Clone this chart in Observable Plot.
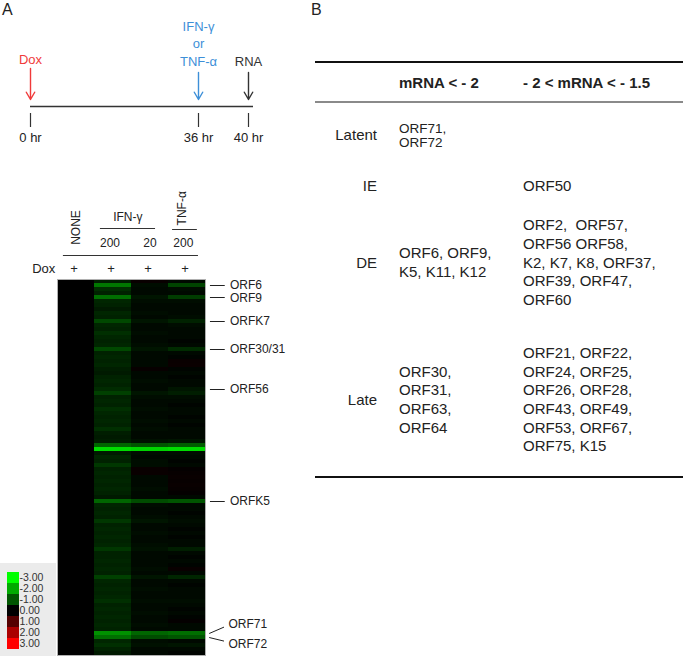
<!DOCTYPE html>
<html><head><meta charset="utf-8">
<script src="https://cdn.jsdelivr.net/npm/d3@7"></script>
<script src="https://cdn.jsdelivr.net/npm/@observablehq/plot@0.6"></script>
<style>
body{margin:0;background:#fff;}
#fig{position:relative;width:685px;height:656px;overflow:hidden;font-family:"Liberation Sans",Arial,sans-serif;color:#222;background:#fff;}
#fig .abs{position:absolute;white-space:nowrap;}
#fig svg{overflow:visible;}
</style></head><body><div id="fig"></div>
<script>
// ---------- data ----------
const conditions = ["NONE", "IFN-γ 200", "IFN-γ 20", "TNF-α 200"];
const noneValues = [
  0,0,0,0,0,0,0,0,0,0, 0,0,0,0,0,0,0,0,0,0, 0,0,0,0,0,0,0,0,0,0, 0,0,0,0,0,0,0,0,0,0,
  0,0,0,0,0,0,0,0,0,0, 0,0,0,0,0,0,0,0,0,0, 0,0,0,0,0,0,0,0,0,0, 0,0,0,0,0,0,0,0,0,0,
  0,0,0,0,0,0,0,0,0,0, 0,0,0,0];
const ifn200 = [
  -0.35,-1.4,-0.55,-0.4,-1.3,-0.45,-0.4,-0.3,-0.45,-0.4,
  -0.85,-0.45,-0.4,-0.55,-0.45,-0.4,-0.45,-0.85,-0.4,-0.45,
  -0.4,-0.45,-0.35,-0.3,-0.4,-0.45,-0.4,-0.5,-0.75,-0.4,
  -0.45,-0.4,-0.55,-0.45,-0.4,-0.45,-0.4,-0.55,-0.35,-0.3,
  -0.35,-1.2,-2.6,-0.3,-0.45,-0.4,-0.65,-0.4,-0.45,-0.4,
  -0.45,-0.4,-0.45,-0.4,-0.3,-1.2,-0.45,-0.4,-0.45,-0.4,
  -0.65,-0.4,-0.45,-0.4,-0.45,-0.4,-0.45,-0.65,-0.4,-0.4,
  -0.45,-0.4,-0.45,-0.4,-0.75,-0.45,-0.4,-0.45,-0.4,-0.45,
  -0.55,-0.4,-0.45,-0.4,-0.45,-0.4,-0.45,-0.4,-1.7,-1.3,
  -0.45,-0.55,-0.4,-0.3];
const ifn20 = [
  0.1,-0.15,-0.1,-0.1,-0.25,-0.15,-0.1,-0.1,-0.15,-0.1,
  -0.25,-0.1,-0.1,-0.15,-0.1,-0.1,-0.15,-0.25,-0.1,-0.1,
  -0.1,-0.1,0.08,-0.1,-0.1,-0.15,-0.1,-0.1,-0.25,-0.15,
  -0.1,-0.1,-0.15,-0.1,-0.1,-0.15,-0.1,-0.15,-0.1,-0.1,
  -0.2,-1.0,-2.5,-0.15,-0.1,-0.15,-0.15,0.1,0.1,-0.1,
  -0.1,-0.1,-0.15,-0.1,-0.1,-0.9,-0.15,-0.1,-0.1,-0.15,
  -0.25,-0.1,-0.1,-0.15,-0.1,-0.1,-0.15,-0.2,-0.1,-0.1,
  -0.1,-0.1,-0.15,-0.1,-0.25,-0.1,-0.1,-0.15,-0.1,-0.1,
  -0.15,-0.1,-0.1,-0.15,-0.1,-0.1,-0.15,-0.1,-1.2,-0.9,
  -0.15,-0.2,-0.1,-0.1];
const tnf200 = [
  -0.1,-0.8,-0.15,-0.1,-0.7,-0.15,-0.1,-0.1,-0.1,-0.15,
  -0.4,-0.15,-0.1,-0.1,-0.1,-0.05,-0.1,-0.5,-0.1,-0.05,
  0.1,0.12,-0.05,-0.1,-0.05,-0.1,-0.1,-0.25,-0.35,-0.15,
  -0.1,-0.05,-0.1,-0.1,-0.05,-0.1,-0.05,-0.1,-0.1,-0.1,
  -0.25,-1.1,-2.6,-0.15,-0.1,-0.05,-0.1,0.05,0.08,0.1,
  0.08,0.1,0.08,0.05,-0.1,-1.0,-0.1,-0.1,-0.05,-0.1,
  -0.15,-0.1,-0.05,-0.1,-0.05,-0.1,-0.1,-0.35,-0.1,-0.05,
  -0.1,-0.05,0.1,-0.1,-0.45,-0.1,-0.05,-0.1,-0.1,-0.1,
  -0.15,-0.1,-0.05,-0.1,-0.05,0.05,-0.1,-0.1,-1.3,-1.0,
  -0.1,-0.25,-0.1,-0.05];
const markerLabels = ["ORF6", "ORF9", "ORFK7", "ORF30/31", "ORF56", "ORFK5", "ORF71", "ORF72"];
const markerRows = [1, 4, 10, 17, 27, 55, 88, 89];
const legendValues = [-3, -2, -1, 0, 1, 2, 3];
const eventTimes = [0, 36, 40];
const eventLabels = ["Dox", "IFN-γ\nor\nTNF-α", "RNA"];
const eventColors = ["#f03a3a", "#3d8fd8", "#333333"];
const tableHeaders = ["mRNA < - 2", "- 2 < mRNA < - 1.5"];
const geneClasses = ["Latent", "IE", "DE", "Late"];
const strongGenes = [["ORF71,", "ORF72"], [], ["ORF6, ORF9,", "K5, K11, K12"], ["ORF30,", "ORF31,", "ORF63,", "ORF64"]];
const moderateGenes = [[], ["ORF50"], ["ORF2,  ORF57,", "ORF56 ORF58,", "K2, K7, K8, ORF37,", "ORF39, ORF47,", "ORF60"],
  ["ORF21, ORF22,", "ORF24, ORF25,", "ORF26, ORF28,", "ORF43, ORF49,", "ORF53, ORF67,", "ORF75, K15"]];

// ---------- helpers ----------
const fig = document.getElementById("fig");
const FONT = '"Liberation Sans", Arial, sans-serif';
function place(node, left, top) {
  node.style.position = "absolute"; node.style.left = left + "px"; node.style.top = top + "px";
  fig.appendChild(node); return node;
}
function textBlock(lines, {left, right, cy, size = 15, lh = 18.7, bold = false, align = "left", color = "#222"}) {
  const d = document.createElement("div");
  d.className = "abs";
  d.innerHTML = lines.map(s => s.replace(/</g, "&lt;").replace(/  /g, " &nbsp;")).join("<br>");
  d.style.fontSize = size + "px"; d.style.lineHeight = lh + "px";
  d.style.fontWeight = bold ? "bold" : "normal"; d.style.color = color; d.style.textAlign = align;
  d.style.top = (cy - lines.length * lh / 2) + "px";
  if (right !== undefined) d.style.right = (685 - right) + "px"; else d.style.left = left + "px";
  fig.appendChild(d); return d;
}
function hrule(x1, x2, y, w, color) {
  const d = document.createElement("div");
  d.className = "abs";
  d.style.left = x1 + "px"; d.style.width = (x2 - x1) + "px";
  d.style.top = (y - w / 2) + "px"; d.style.height = w + "px"; d.style.background = color;
  fig.appendChild(d);
}

const colorScale = {type: "linear", domain: [-3, 0, 3], range: ["#00ff00", "#000000", "#ff0000"], interpolate: "rgb"};

// ---------- panel letters ----------
textBlock(["A"], {left: 2, cy: 10, size: 16, lh: 18});
textBlock(["B"], {left: 311, cy: 10, size: 16, lh: 18});

// ---------- timeline ----------
const events = eventTimes.map((t, i) => ({time: t, label: eventLabels[i], color: eventColors[i]}));
const timeline = Plot.plot({
  width: 300, height: 150, margin: 0,
  x: {type: "linear", domain: [0, 36, 40], range: [30, 198, 248], axis: null},
  y: {type: "identity", axis: null},
  style: {fontFamily: FONT, fontSize: "13px", background: "transparent", overflow: "visible"},
  marks: [
    Plot.ruleY([106], {x1: 0, x2: 40.4, stroke: "#333", strokeWidth: 1.5}),
    Plot.ruleX(events, {x: "time", y1: 113, y2: 127, stroke: "#333", strokeWidth: 1.2}),
    Plot.text(events, {x: "time", y: 137, text: d => `${d.time} hr`, fill: "#222", fontSize: 13}),
    Plot.arrow(events, {x1: "time", x2: "time", y1: d => d.time === 0 ? 68 : 72, y2: 99,
      stroke: d => d.color, strokeWidth: 1.4, headLength: 9, headAngle: 60}),
    Plot.text(events, {x: "time", y: d => d.time === 0 ? 58 : 60, text: "label", fill: d => d.color,
      fontSize: 13, lineAnchor: "bottom", lineHeight: 1.32, dy: 5})
  ]
});
place(timeline, 0, 0);

// ---------- heatmap ----------
const series = [noneValues, ifn200, ifn20, tnf200];
const cells = [];
series.forEach((vals, c) => vals.forEach((v, r) => cells.push({col: c, cond: conditions[c], row: r, value: v})));
const markers = markerLabels.map((label, i) => ({label, row: markerRows[i]}));
const straight = markers.filter(d => d.label !== "ORF71" && d.label !== "ORF72");
const slanted = markers.filter(d => d.label === "ORF71" || d.label === "ORF72");
const slantEnd = {ORF71: -1.6, ORF72: 0.9};
const slantLabel = {ORF71: -2.4, ORF72: 1.6};

const colCenters = conditions.map((c, i) => ({i, text: "+"}));
const heat = Plot.plot({
  width: 300, height: 466, marginLeft: 57, marginRight: 95, marginTop: 89, marginBottom: 1,
  x: {domain: [0, 4], axis: null},
  y: {domain: [0, 94], reverse: true, axis: null},
  color: colorScale,
  style: {fontFamily: FONT, fontSize: "12px", background: "transparent", overflow: "visible", color: "#222"},
  marks: [
    Plot.rect(cells, {x1: "col", x2: d => d.col + 1, y1: "row", y2: d => d.row + 1, fill: "value", shapeRendering: "crispEdges"}),
    Plot.frame({stroke: "#b0b0b0"}),
    // gene markers
    Plot.link(straight, {x1: 4.12, x2: 4.52, y1: d => d.row + 0.5, y2: d => d.row + 0.5, stroke: "#222", strokeWidth: 1}),
    Plot.text(straight, {x: 4.66, y: d => d.row + (d.label === "ORF9" ? 0.7 : 0.5), text: "label", textAnchor: "start", fontSize: 12, fill: "#222"}),
    Plot.link(slanted, {x1: 4.1, x2: 4.5, y1: d => d.row + 0.5, y2: d => d.row + 0.5 + slantEnd[d.label], stroke: "#222", strokeWidth: 1}),
    Plot.text(slanted, {x: 4.62, y: d => d.row + 0.5 + slantLabel[d.label], text: "label", textAnchor: "start", fontSize: 12, fill: "#222"}),
    // column header
    Plot.text(["NONE"], {x: 0.5, y: -13, text: d => d, rotate: -90, fontSize: 12, fill: "#222"}),
    Plot.text(["IFN-γ"], {x: 1.9, y: -15.5, text: d => d, fontSize: 12, fill: "#222"}),
    Plot.text(["TNF-α"], {x: 3.38, y: -17.8, text: d => d, rotate: -90, fontSize: 12, fill: "#222"}),
    Plot.text([{x: 1.42, t: "200"}, {x: 2.5, t: "20"}, {x: 3.4, t: "200"}], {x: "x", y: -9, text: "t", fontSize: 12, fill: "#222"}),
    Plot.ruleY([-12.75], {x1: 1.16, x2: 2.65, stroke: "#333"}),
    Plot.ruleY([-12.5], {x1: 3.11, x2: 3.78, stroke: "#333"}),
    Plot.ruleY([-6], {x1: 0.16, x2: 3.81, stroke: "#333"}),
    Plot.text(["Dox"], {x: -0.06, y: -2.75, text: d => d, textAnchor: "end", fontSize: 13, fill: "#222"}),
    Plot.text(colCenters, {x: d => d.i + 0.45, y: -2.75, text: "text", fontSize: 13, fill: "#222"})
  ]
});
place(heat, 0, 190);

// ---------- legend ----------
const legendBg = document.createElement("div");
legendBg.style.width = "56px"; legendBg.style.height = "93px"; legendBg.style.background = "#ebebeb";
place(legendBg, 0, 563);
const legend = Plot.plot({
  width: 56, height: 93, marginLeft: 7, marginRight: 37, marginTop: 7, marginBottom: 5,
  y: {type: "band", domain: legendValues, padding: 0, axis: null},
  color: colorScale,
  style: {fontFamily: FONT, fontSize: "10px", background: "transparent", overflow: "visible"},
  marks: [
    Plot.cell(legendValues, {y: d => d, fill: d => d, shapeRendering: "crispEdges"}),
    Plot.text(legendValues, {y: d => d, text: d => d.toFixed(2), frameAnchor: "right", dx: 0, textAnchor: "start", fontSize: 10.5, fill: "#333"})
  ]
});
place(legend, 0, 563);

// ---------- table ----------
hrule(315, 683, 62, 2.6, "#111");
hrule(315, 683, 102, 1.6, "#8a8a8a");
hrule(315, 683, 477, 2.6, "#111");
textBlock([tableHeaders[0]], {left: 399, cy: 83, bold: true, size: 15});
textBlock([tableHeaders[1]], {left: 523, cy: 83, bold: true, size: 15});
const rowCenters = [135, 186, 263, 400];
geneClasses.forEach((cls, i) => {
  textBlock([cls], {right: 377, cy: rowCenters[i], size: 15, align: "right"});
  if (strongGenes[i].length) {
    const latent = cls === "Latent";
    textBlock(strongGenes[i], {left: 399, cy: rowCenters[i] + (latent ? 1 : 0), size: latent ? 13.5 : 15, lh: latent ? 14 : 18.7});
  }
  if (moderateGenes[i].length) textBlock(moderateGenes[i], {left: 523, cy: rowCenters[i], size: 15});
});
</script></body></html>
